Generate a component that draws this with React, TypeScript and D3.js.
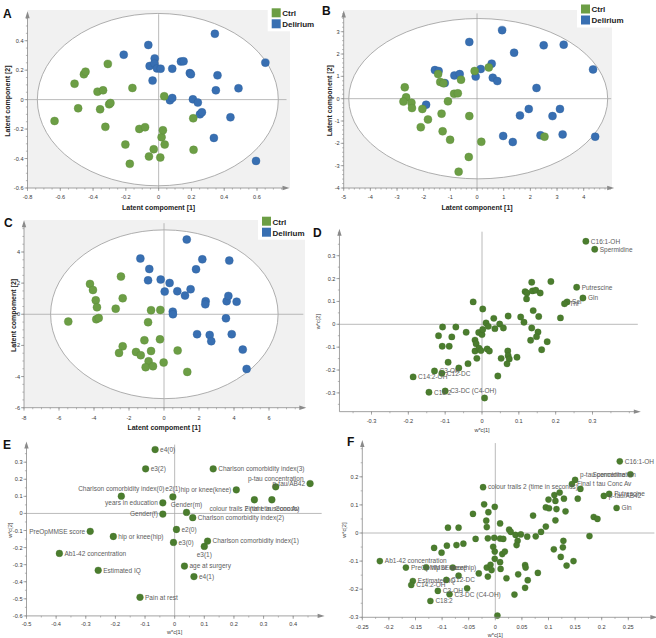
import React from "react";
import * as d3 from "d3";

type Pt = [number, number];

// ---------------- DATA ----------------
const legendLabels = ["Ctrl", "Delirium"];

const aCtrl: Pt[] = [
  [-0.635, -0.145], [-0.513, 0.108], [-0.491, -0.059], [-0.456, 0.172], [-0.446, 0.19],
  [-0.373, 0.054], [-0.339, 0.063], [-0.357, -0.066], [-0.302, -0.032], [-0.294, -0.023],
  [-0.31, 0.242], [-0.325, -0.185], [-0.16, 0.079], [-0.203, -0.305], [-0.176, -0.436],
  [-0.118, -0.199], [-0.083, -0.188], [-0.059, -0.386], [-0.03, -0.337], [0.01, -0.393],
  [0.018, -0.255], [0.026, -0.208], [0.037, -0.305], [0.034, 0.023], [0.211, -0.127], [0.213, -0.341],
];
const aDelirium: Pt[] = [
  [-0.213, 0.305], [-0.063, 0.371], [-0.055, 0.228], [-0.024, 0.28], [-0.026, 0.246],
  [-0.037, 0.129], [-0.01, 0.212], [0.012, 0.21], [0.083, 0.21], [0.069, -0.005],
  [0.083, 0.011], [0.136, 0.258], [0.152, 0.26], [0.19, 0.18], [0.197, 0.172],
  [0.209, 0.002], [0.239, -0.02], [0.252, -0.1], [0.264, -0.086], [0.343, 0.447],
  [0.349, 0.063], [0.359, 0.165], [0.337, -0.26], [0.438, -0.12], [0.487, 0.077],
  [0.594, -0.416], [0.651, 0.251],
];

const bCtrl: Pt[] = [
  [-2.71, 0.51], [-2.66, 0.06], [-2.76, -0.13], [-2.46, -0.18], [-2.44, -0.42], [-2.05, -0.46],
  [-1.84, -0.93], [-2.11, -1.28], [-1.46, 1.1], [-1.38, 0.75], [-1.26, 0.69], [-1.09, -0.12],
  [-1.33, -0.67], [-1.29, -1.46], [-1.01, -1.84], [-0.86, 0.22], [-0.72, 0.24], [-0.6, 0.85],
  [-0.29, -0.78], [-0.31, -2.61], [-0.69, -3.27], [-0.09, 1.24], [0.44, 1.4], [0.16, -1.93], [2.53, -1.7],
];
const bDelirium: Pt[] = [
  [-1.58, 1.28], [-1.44, 1.24], [-1.21, 0.7], [-1.91, -0.27], [-0.85, 1.04], [-0.65, 1.1],
  [-0.29, 2.54], [-0.05, 0.99], [0.14, 1.33], [0.55, 1.57], [0.59, 0.94], [0.76, 0.79],
  [0.94, 3.07], [1.39, 2.06], [0.98, -1.67], [1.34, -1.94], [1.61, -0.75], [1.94, -0.46],
  [2.23, 0.48], [2.38, -1.64], [2.5, 2.39], [2.83, -0.78], [3.11, -0.46], [3.25, 2.42],
  [3.21, -1.6], [4.35, 1.31], [4.43, -1.7],
];

const cCtrl: Pt[] = [
  [-5.47, -0.47], [-4.23, 1.95], [-4.06, 1.56], [-3.9, 0.9], [-3.83, 0.45], [-3.87, -0.32],
  [-3.73, -0.24], [-2.76, 0.36], [-2.46, 2.42], [-2.36, 1.03], [-2.36, -2.06], [-2.57, -2.48],
  [-1.6, -2.42], [-1.33, -2.63], [-1.12, -1.67], [-0.91, -0.51], [-0.74, 0.26], [-0.74, -2.36],
  [-0.88, -3.02], [-1.05, -3.4], [-0.63, -3.34], [-0.21, 0.28], [-0.23, -1.61], [-0.02, -3.1],
  [0.78, -2.33], [1.33, -3.7],
];
const cDelirium: Pt[] = [
  [-1.35, 3.58], [-0.84, 2.91], [-0.91, 2.18], [-0.19, 2.23], [0.32, 2.01], [0.04, 1.46],
  [0.5, 0.17], [0.51, 0.0], [0.76, 1.48], [1.2, 1.2], [1.52, 1.61], [1.3, 4.8], [1.83, 2.89],
  [2.19, 3.53], [2.38, 0.84], [2.36, 0.64], [1.89, -1.28], [2.61, -1.33], [2.7, -1.73],
  [3.58, 0.84], [3.68, 1.18], [3.73, 3.45], [3.54, -0.26], [3.87, -1.28], [4.15, 0.81],
  [4.5, -2.27], [4.72, -3.51],
];

const dPoints: Pt[] = [
  [-0.024, 0.098], [0.002, 0.067], [-0.107, -0.012], [-0.071, -0.012], [-0.118, -0.05], [-0.082, -0.055],
  [-0.108, -0.096], [-0.089, -0.096], [-0.043, -0.035], [-0.019, -0.069], [-0.016, -0.085], [-0.009, -0.036],
  [0.0, -0.045], [0.002, -0.023], [0.011, 0.006], [0.017, -0.009], [0.032, 0.026], [0.035, -0.019],
  [0.048, 0.001], [0.058, -0.016], [0.071, 0.036], [-0.019, -0.117], [-0.008, -0.105], [-0.003, -0.115],
  [0.014, -0.108], [0.02, -0.117], [-0.014, -0.149], [0.07, -0.117], [0.071, -0.137], [0.074, -0.152],
  [0.068, -0.173], [0.052, -0.149], [0.095, -0.144], [0.043, -0.226], [-0.038, -0.172], [-0.063, -0.191],
  [-0.092, -0.166], [0.105, 0.032], [0.114, 0.009], [0.117, 0.143], [0.121, 0.111], [0.122, 0.137],
  [0.135, 0.184], [0.137, 0.146], [0.146, 0.149], [0.158, 0.137], [0.139, 0.06], [0.154, 0.034],
  [0.135, -0.016], [0.152, -0.034], [0.148, -0.054], [0.132, -0.07], [0.177, -0.076], [0.162, -0.111],
  [0.187, 0.187], [0.213, 0.028], [0.007, -0.322],
];
const dNames = ["C16:1-OH", "Spermidine", "Putrescine", "Gln", "Ser", "Thr", "C14:2-OH", "C3-OH", "C12-DC", "C18:2", "C3-DC (C4-OH)"];
const dNamed: Pt[] = [
  [0.282, 0.363], [0.306, 0.328], [0.257, 0.162], [0.274, 0.115], [0.231, 0.098], [0.224, 0.09],
  [-0.187, -0.23], [-0.129, -0.204], [-0.109, -0.214], [-0.144, -0.297], [-0.1, -0.292],
];

const eNames = [
  "e4(0)", "e3(2)", "Charlson comorbidity index(3)", "Charlson comorbidity index(0)", "e2(1)",
  "hip or knee(knee)", "years in education", "Gender(m)", "Gender(f)", "p-tau concentration",
  "p-tau/AB42", "colour trails 2 (time in seconds)", "Final t tau Conc Av", "Charlson comorbidity index(2)",
  "e2(0)", "e3(0)", "e3(1)", "Charlson comorbidity index(1)", "age at surgery", "e4(1)",
  "hip or knee(hip)", "PreOpMMSE score", "Ab1-42 concentration", "Estimated IQ", "Pain at rest",
];
const eNamed: Pt[] = [
  [-0.066, 0.374], [-0.098, 0.261], [0.13, 0.261], [-0.18, 0.101], [-0.006, 0.097],
  [0.208, 0.138], [-0.04, 0.062], [0.04, 0.006], [-0.04, -0.004], [0.341, 0.156],
  [0.457, 0.175], [0.269, 0.08], [0.328, 0.08], [0.061, -0.025],
  [0.006, -0.094], [-0.004, -0.17], [0.1, -0.193], [0.111, -0.162], [0.033, -0.308], [0.065, -0.37],
  [-0.207, -0.135], [-0.285, -0.105], [-0.389, -0.234], [-0.258, -0.333], [-0.117, -0.491],
];

const fPoints: Pt[] = [
  [-0.115, -0.053], [-0.101, -0.07], [-0.091, -0.045], [-0.089, 0.019], [-0.08, -0.123], [-0.073, -0.043],
  [-0.069, 0.019], [-0.069, -0.152], [-0.06, -0.038], [-0.053, -0.197], [-0.042, 0.068], [-0.037, -0.021],
  [-0.031, -0.144], [-0.021, 0.102], [-0.017, 0.044], [-0.016, 0.021], [-0.013, 0.074], [-0.014, -0.019],
  [-0.016, -0.123], [-0.014, -0.155], [-0.009, -0.113], [-0.007, -0.132], [-0.001, 0.093], [-0.002, -0.017],
  [0.1, 0.119], [0.111, 0.135], [0.121, 0.144], [0.113, 0.114], [0.129, 0.122], [0.095, 0.091],
  [0.101, 0.088], [0.115, 0.085], [0.132, 0.077], [0.155, 0.122], [0.071, 0.062], [0.113, 0.045],
  [0.185, 0.057], [0.192, 0.05], [0.009, 0.034], [0.095, 0.023], [0.086, 0.004], [0.026, 0.012],
  [0.029, 0.004], [0.038, -0.007], [0.048, -0.005], [0.06, -0.013], [0.076, -0.012], [0.009, -0.02],
  [0.015, -0.021], [0.042, -0.028], [0.04, -0.043], [0.177, -0.011], [0.128, -0.028], [0.127, -0.051],
  [0.11, -0.058], [0.123, -0.085], [0.147, -0.1], [0.134, -0.116], [-0.004, -0.049], [-0.001, -0.066],
  [0.013, -0.075], [0.018, -0.066], [0.009, -0.104], [0.01, -0.128], [0.056, -0.114], [0.057, -0.123],
  [0.043, -0.147], [0.08, -0.142], [0.021, -0.161], [0.061, -0.168], [0.056, -0.195], [0.036, -0.219],
  [0.004, -0.294], [-0.001, -0.092], [0.16, 0.157],
];
const fNames = [
  "C16:1-OH", "Spermidine", "p-tau concentration", "Final t tau Conc Av", "colour trails 2 (time in seconds)",
  "p-tau/AB42", "Putrescine", "Gln", "Ab1-42 concentration", "PreOpMMSE score", "hip or knee(hip)",
  "Estimated IQ", "C12-DC", "C14:2-OH", "C3-OH", "C3-DC (C4-OH)", "C18:2",
];
const fNamed: Pt[] = [
  [0.234, 0.255], [0.254, 0.209], [0.15, 0.189], [0.144, 0.174], [-0.023, 0.163],
  [0.204, 0.132], [0.214, 0.139], [0.228, 0.089], [-0.217, -0.1], [-0.168, -0.123], [-0.13, -0.122],
  [-0.155, -0.171], [-0.092, -0.167], [-0.158, -0.185], [-0.108, -0.206], [-0.086, -0.218], [-0.122, -0.242],
];

const aXTicks = [-0.8, -0.6, -0.4, -0.2, 0, 0.2, 0.4, 0.6];
const aYTicks = [-0.6, -0.4, -0.2, 0, 0.2, 0.4];
const bXTicks = [-5, -4, -3, -2, -1, 0, 1, 2, 3, 4];
const bYTicks = [-4, -3, -2, -1, 0, 1, 2, 3];
const cXTicks = [-8, -6, -4, -2, 0, 2, 4, 6];
const cYTicks = [-6, -4, -2, 0, 2, 4];
const dXTicks = [-0.3, -0.2, -0.1, 0, 0.1, 0.2, 0.3];
const dYTicks = [-0.3, -0.2, -0.1, 0, 0.1, 0.2, 0.3];
const eXTicks = [-0.5, -0.4, -0.3, -0.2, -0.1, 0, 0.1, 0.2, 0.3, 0.4];
const eYTicks = [-0.6, -0.5, -0.4, -0.3, -0.2, -0.1, 0, 0.1, 0.2, 0.3];
const fXTicks = [-0.25, -0.2, -0.15, -0.1, -0.05, 0, 0.05, 0.1, 0.15, 0.2, 0.25];
const fYTicks = [-0.3, -0.2, -0.1, 0, 0.1, 0.2];

// ---------------- LAYOUT / STYLE ----------------
const ePlace = ["r", "r", "r", "a", "a", "l", "l", "a", "l", "a", "l", "b", "b", "r", "r", "r", "b", "r", "r", "r", "r", "l", "r", "r", "r"];
const fPlace = ["r", "l", "ru", "r", "r", "r", "r", "r", "r", "r", "r", "r", "r", "r", "r", "r", "r"];

const FONT = "'Liberation Sans', Arial, sans-serif";
const GREEN = "#6C9E45";
const BLUE = "#386FB2";
const DARKG = "#4B7D2E";
const AXIS = "#8a8a8a";
const ZERO = "#a8a8a8";
const TXT = "#3a3a3a";
const LBL = "#5c5c5c";
const BG = "#f1f1f1";

const placement: Record<string, { dx: number; dy: number; anchor: string }> = {
  r: { dx: 5, dy: 2.3, anchor: "start" },
  ru: { dx: 5, dy: -2.5, anchor: "start" },
  l: { dx: -5, dy: 2.3, anchor: "end" },
  a: { dx: 0, dy: -5.5, anchor: "middle" },
  b: { dx: 0, dy: 10.8, anchor: "middle" },
};

function fmt(v: number) {
  const s = String(+v.toFixed(3));
  return s === "-0" ? "0" : s;
}

function minorTicks(ticks: number[], sub: number, lo: number, hi: number) {
  const step = (ticks[1] - ticks[0]) / sub;
  const out: number[] = [];
  for (let v = ticks[0]; v <= hi + 1e-9; v += step) out.push(v);
  for (let v = ticks[0] - step; v >= lo - 1e-9; v -= step) out.push(v);
  return out;
}

type Sc = d3.ScaleLinear<number, number>;

type AxesProps = {
  xs: Sc; ys: Sc; xLo: number; xHi: number; yLo: number; yHi: number;
  xTicks: number[]; yTicks: number[]; xSub: number; ySub: number;
  xLabel: string; yLabel: string; tickDy: number; labelDy: number; yLabelX: number;
  bold: boolean; labelSize: number;
};

function Axes(p: AxesProps) {
  const ax = p.xs(p.xLo), ay = p.ys(p.yLo);
  const xe = p.xs(p.xHi), ye = p.ys(p.yHi);
  const xm = minorTicks(p.xTicks, p.xSub, p.xLo, p.xHi);
  const ym = minorTicks(p.yTicks, p.ySub, p.yLo, p.yHi);
  return (
    <g fontFamily={FONT}>
      <line x1={ax} y1={ay} x2={xe} y2={ay} stroke={AXIS} strokeWidth={0.8} />
      <line x1={ax} y1={ay} x2={ax} y2={ye} stroke={AXIS} strokeWidth={0.8} />
      <path d={`M${xe + 3},${ay} L${xe - 4},${ay - 2.2} L${xe - 4},${ay + 2.2}Z`} fill={AXIS} />
      <path d={`M${ax},${ye - 3} L${ax - 2.2},${ye + 4} L${ax + 2.2},${ye + 4}Z`} fill={AXIS} />
      {xm.map((v, i) => (
        <line key={"xm" + i} x1={p.xs(v)} x2={p.xs(v)} y1={ay} y2={ay + 1.6} stroke={AXIS} strokeWidth={0.6} />
      ))}
      {ym.map((v, i) => (
        <line key={"ym" + i} y1={p.ys(v)} y2={p.ys(v)} x1={ax} x2={ax - 1.6} stroke={AXIS} strokeWidth={0.6} />
      ))}
      {p.xTicks.map((v) => (
        <g key={"xt" + v}>
          <line x1={p.xs(v)} x2={p.xs(v)} y1={ay} y2={ay + 3} stroke={AXIS} strokeWidth={0.7} />
          <text x={p.xs(v)} y={ay + p.tickDy} fontSize={5.6} fill={TXT} textAnchor="middle">{fmt(v)}</text>
        </g>
      ))}
      {p.yTicks.map((v) => (
        <g key={"yt" + v}>
          <line y1={p.ys(v)} y2={p.ys(v)} x1={ax} x2={ax - 3} stroke={AXIS} strokeWidth={0.7} />
          <text x={ax - 4} y={p.ys(v) + 2} fontSize={5.6} fill={TXT} textAnchor="end">{fmt(v)}</text>
        </g>
      ))}
      <text x={p.xs(0)} y={ay + p.labelDy} fontSize={p.labelSize} fontWeight={p.bold ? "bold" : "normal"}
        fill={p.bold ? "#222" : TXT} textAnchor="middle">{p.xLabel}</text>
      <text transform={`translate(${p.yLabelX},${(ay + ye) / 2}) rotate(-90)`} fontSize={p.labelSize}
        fontWeight={p.bold ? "bold" : "normal"} fill={p.bold ? "#222" : TXT} textAnchor="middle"
        dominantBaseline="central">{p.yLabel}</text>
    </g>
  );
}

function ZeroLines({ xs, ys, xLo, xHi, yLo, yHi }: { xs: Sc; ys: Sc; xLo: number; xHi: number; yLo: number; yHi: number }) {
  return (
    <g>
      <line x1={xs(xLo)} x2={xs(xHi)} y1={ys(0)} y2={ys(0)} stroke={ZERO} strokeWidth={0.8} />
      <line x1={xs(0)} x2={xs(0)} y1={ys(yLo)} y2={ys(yHi)} stroke={ZERO} strokeWidth={0.8} />
    </g>
  );
}

function Legend({ x, y }: { x: number; y: number }) {
  const cols = [GREEN, BLUE];
  return (
    <g fontFamily={FONT}>
      <rect x={x - 4} y={y - 2} width={52} height={25} fill="#fff" />
      {legendLabels.map((l, i) => (
        <g key={l}>
          <rect x={x} y={y + i * 11} width={9} height={9} fill={cols[i]} />
          <text x={x + 10.5} y={y + i * 11 + 7.8} fontSize={8} fontWeight="bold" fill="#222">{l}</text>
        </g>
      ))}
    </g>
  );
}

type ScoreProps = {
  xs: Sc; ys: Sc; xLo: number; xHi: number; yLo: number; yHi: number; bgRight: number; bgTop: number;
  erx: number; ery: number; ecx: number; ctrl: Pt[]; del: Pt[];
};

function ScorePlot(p: ScoreProps) {
  const x0 = p.xs(p.xLo), y0 = p.ys(p.yLo);
  return (
    <g>
      <rect x={x0} y={p.bgTop} width={p.bgRight - x0} height={y0 - p.bgTop} fill={BG} />
      <ellipse cx={p.xs(p.ecx)} cy={p.ys(0)} rx={p.xs(p.ecx + p.erx) - p.xs(p.ecx)} ry={p.ys(0) - p.ys(p.ery)}
        fill="#fff" stroke="#9a9a9a" strokeWidth={0.8} />
      <ZeroLines xs={p.xs} ys={p.ys} xLo={p.xLo} xHi={p.xHi} yLo={p.yLo} yHi={p.yHi} />
      {p.del.map((d, i) => (
        <circle key={"d" + i} cx={p.xs(d[0])} cy={p.ys(d[1])} r={4} fill={BLUE} stroke="#2d5f9c" strokeWidth={0.4} />
      ))}
      {p.ctrl.map((d, i) => (
        <circle key={"c" + i} cx={p.xs(d[0])} cy={p.ys(d[1])} r={4} fill={GREEN} stroke="#5a8a38" strokeWidth={0.4} />
      ))}
    </g>
  );
}

type LoadProps = {
  xs: Sc; ys: Sc; xLo: number; xHi: number; yLo: number; yHi: number; r: number;
  pts: Pt[]; named: Pt[]; names: string[]; places?: string[];
};

function LoadingPlot(p: LoadProps) {
  return (
    <g>
      <ZeroLines xs={p.xs} ys={p.ys} xLo={p.xLo} xHi={p.xHi} yLo={p.yLo} yHi={p.yHi} />
      {p.pts.map((d, i) => (
        <circle key={"p" + i} cx={p.xs(d[0])} cy={p.ys(d[1])} r={p.r} fill={DARKG} stroke="#3d6b24" strokeWidth={0.3} />
      ))}
      {p.named.map((d, i) => (
        <circle key={"n" + i} cx={p.xs(d[0])} cy={p.ys(d[1])} r={p.r} fill={DARKG} stroke="#3d6b24" strokeWidth={0.3} />
      ))}
      <g fontFamily={FONT} fontSize={6.5} fill={LBL}>
        {p.named.map((d, i) => {
          const pl = placement[p.places ? p.places[i] : "r"];
          return (
            <text key={"t" + i} x={p.xs(d[0]) + pl.dx} y={p.ys(d[1]) + pl.dy} textAnchor={pl.anchor}>{p.names[i]}</text>
          );
        })}
      </g>
    </g>
  );
}

function Letter({ x, y, t }: { x: number; y: number; t: string }) {
  return <text x={x} y={y} fontFamily={FONT} fontSize={12} fontWeight="bold" fill="#111">{t}</text>;
}

export default function App() {
  // Panel A
  const xA = d3.scaleLinear().domain([-0.8, 0.6]).range([27.5, 257]);
  const yA = d3.scaleLinear().domain([-0.6, 0.4]).range([188, 40.7]);
  // Panel B
  const xB = d3.scaleLinear().domain([-5, 4]).range([343.7, 583.7]);
  const yB = d3.scaleLinear().domain([-4, 3]).range([188, 31.7]);
  // Panel C
  const xC = d3.scaleLinear().domain([-8, 6]).range([24, 269]);
  const yC = d3.scaleLinear().domain([-6, 4]).range([407.7, 252]);
  // Panel D
  const xD = d3.scaleLinear().domain([-0.3, 0.3]).range([371.5, 592.5]);
  const yD = d3.scaleLinear().domain([-0.3, 0.3]).range([392.9, 255.7]);
  // Panel E
  const xE = d3.scaleLinear().domain([-0.5, 0.4]).range([26.5, 293.2]);
  const yE = d3.scaleLinear().domain([-0.6, 0.3]).range([615.9, 462.2]);
  // Panel F
  const xF = d3.scaleLinear().domain([-0.25, 0.25]).range([362.3, 628.3]);
  const yF = d3.scaleLinear().domain([-0.3, 0.2]).range([617.3, 476.8]);

  return (
    <div style={{ position: "absolute", left: 0, top: 0 }}>
      <svg width={656} height={638} viewBox="0 0 656 638" style={{ display: "block", background: "#fff" }}>
        {/* A */}
        <ScorePlot xs={xA} ys={yA} xLo={-0.8} xHi={0.78} yLo={-0.6} yHi={0.58} bgRight={290} bgTop={10}
          erx={0.735} ery={0.585} ecx={-0.005} ctrl={aCtrl} del={aDelirium} />
        <Axes xs={xA} ys={yA} xLo={-0.8} xHi={0.78} yLo={-0.6} yHi={0.58} xTicks={aXTicks} yTicks={aYTicks}
          xSub={4} ySub={4} xLabel="Latent compoment [1]" yLabel="Latent component [2]" tickDy={10.5} labelDy={22}
          yLabelX={7.5} bold={true} labelSize={7} />
        <Legend x={271.7} y={8.3} />
        <Letter x={3} y={18.3} t="A" />

        {/* B */}
        <ScorePlot xs={xB} ys={yB} xLo={-5} xHi={5.03} yLo={-4} yHi={3.82} bgRight={612} bgTop={10}
          erx={4.855} ery={3.59} ecx={0.045} ctrl={bCtrl} del={bDelirium} />
        <Axes xs={xB} ys={yB} xLo={-5} xHi={5.03} yLo={-4} yHi={3.82} xTicks={bXTicks} yTicks={bYTicks}
          xSub={5} ySub={5} xLabel="Latent component [1]" yLabel="Latent component [2]" tickDy={10.5} labelDy={22}
          yLabelX={329} bold={true} labelSize={7} />
        <Legend x={581} y={4.5} />
        <Letter x={322} y={15} t="B" />

        {/* C */}
        <ScorePlot xs={xC} ys={yC} xLo={-8} xHi={7.96} yLo={-6} yHi={5.85} bgRight={305} bgTop={220}
          erx={6.5} ery={5.42} ecx={0.02} ctrl={cCtrl} del={cDelirium} />
        <Axes xs={xC} ys={yC} xLo={-8} xHi={7.96} yLo={-6} yHi={5.85} xTicks={cXTicks} yTicks={cYTicks}
          xSub={4} ySub={4} xLabel="Latent compoment [1]" yLabel="Latent compoment [2]" tickDy={12} labelDy={22.5}
          yLabelX={13.3} bold={true} labelSize={7} />
        <Legend x={262} y={216.7} />
        <Letter x={4} y={227} t="C" />

        {/* D */}
        <LoadingPlot xs={xD} ys={yD} xLo={-0.387} xHi={0.423} yLo={-0.382} yHi={0.405} r={3.2}
          pts={dPoints} named={dNamed} names={dNames} />
        <Axes xs={xD} ys={yD} xLo={-0.387} xHi={0.423} yLo={-0.382} yHi={0.405} xTicks={dXTicks} yTicks={dYTicks}
          xSub={2} ySub={2} xLabel="w*c[1]" yLabel="w*c[2]" tickDy={11} labelDy={20.5}
          yLabelX={317.5} bold={false} labelSize={5.6} />
        <Letter x={313} y={237} t="D" />

        {/* E */}
        <LoadingPlot xs={xE} ys={yE} xLo={-0.5} xHi={0.496} yLo={-0.6} yHi={0.403} r={3.4}
          pts={[]} named={eNamed} names={eNames} places={ePlace} />
        <Axes xs={xE} ys={yE} xLo={-0.5} xHi={0.496} yLo={-0.6} yHi={0.403} xTicks={eXTicks} yTicks={eYTicks}
          xSub={2} ySub={2} xLabel="w*c[1]" yLabel="w*c[2]" tickDy={10.5} labelDy={18.5}
          yLabelX={10} bold={false} labelSize={5.6} />
        <Letter x={3} y={448.5} t="E" />

        {/* F */}
        <LoadingPlot xs={xF} ys={yF} xLo={-0.25} xHi={0.299} yLo={-0.3} yHi={0.32} r={3.1}
          pts={fPoints} named={fNamed} names={fNames} places={fPlace} />
        <Axes xs={xF} ys={yF} xLo={-0.25} xHi={0.299} yLo={-0.3} yHi={0.32} xTicks={fXTicks} yTicks={fYTicks}
          xSub={2} ySub={2} xLabel="w*c[1]" yLabel="w*c[2]" tickDy={11.5} labelDy={19.5}
          yLabelX={344} bold={false} labelSize={5.6} />
        <Letter x={347} y={445.5} t="F" />
      </svg>
    </div>
  );
}
